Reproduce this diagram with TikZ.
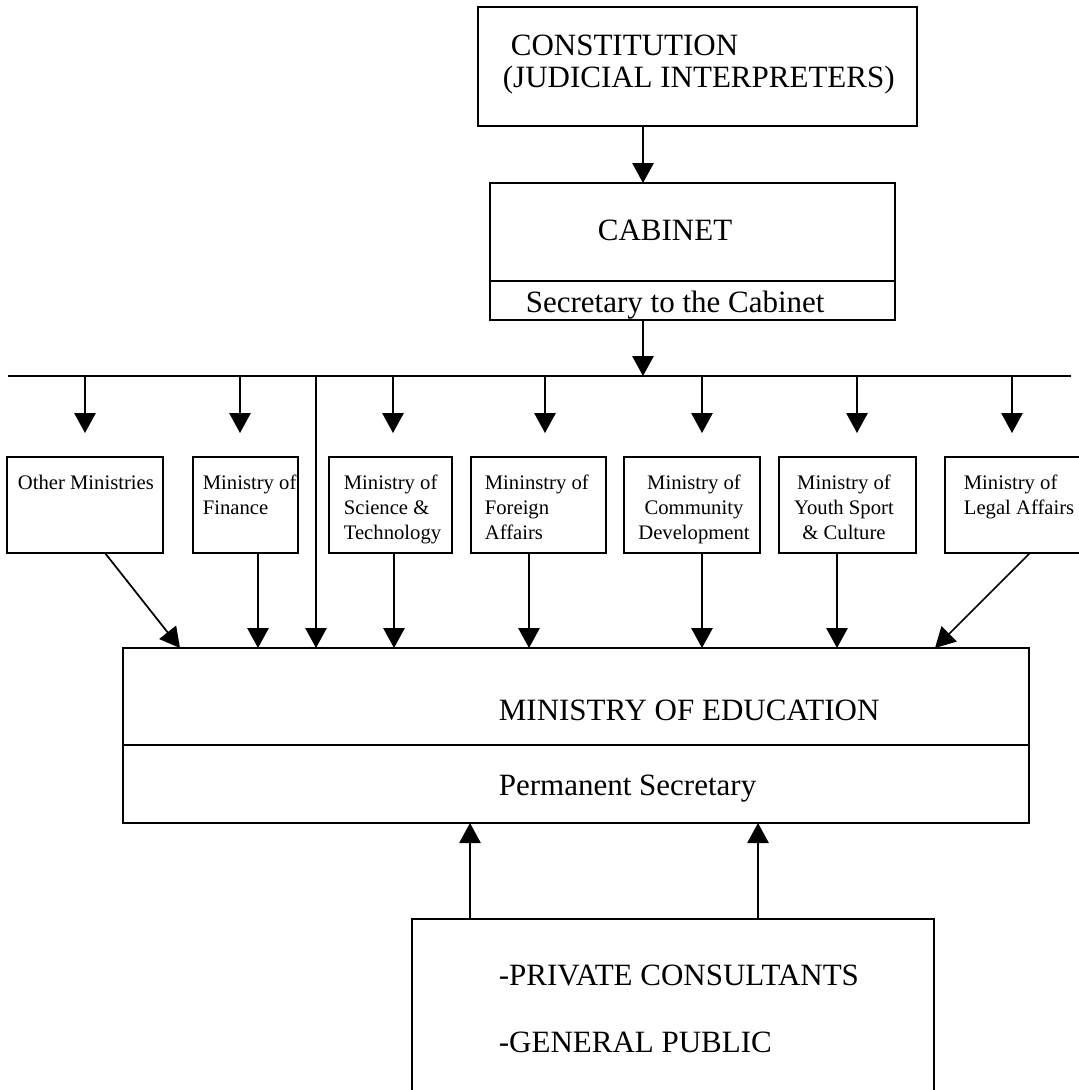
\documentclass[tikz,border=0pt]{standalone}
\usepackage{fontspec}
\setmainfont{Liberation Serif}
\usetikzlibrary{arrows.meta,calc}

\tikzset{every picture/.style={line width=1.3pt}}
\tikzset{
  box/.style={draw, inner sep=0pt, outer sep=0pt},
  arr/.style={-{Triangle[length=15pt,width=16pt]}},
  bigtext/.style={inner sep=0pt, font=\fontsize{23.25}{28}\selectfont},
  smalltext/.style={inner sep=0pt, font=\fontsize{15.5}{18.75}\selectfont},
}

\begin{document}
\begin{tikzpicture}[x=0.75pt,y=0.75pt,yscale=-1,xscale=1]
\useasboundingbox (0,0) rectangle (1079,1090);

%Shape: Rectangle [constitution]
\node[box, minimum width=329.25pt, minimum height=89.25pt] (const) at (697.5,66.5) {};
% Text Node
\node[bigtext, anchor=base west] (const-t1) at (510,55) {CONSTITUTION};
% Text Node
\node[bigtext, anchor=base west] (const-t2) at (502,87) {(JUDICIAL INTERPRETERS)};

%Shape: Rectangle [cabinet]
\node[box, minimum width=303.75pt, minimum height=73.5pt] (cab) at (692.5,232) {};
\node[box, minimum width=303.75pt, minimum height=29.25pt] (cabsec) at (692.5,300.5) {};
% Text Node
\node[bigtext, anchor=base west] (cab-t) at (597,240) {CABINET};
% Text Node
\node[bigtext, anchor=base west] (cabsec-t) at (525,312) {Secretary to the Cabinet};

%Shape: Rectangle [ministries]
\foreach \n/\cx/\w in {other/85/117pt, fin/245.5/78.75pt, sci/390.5/92.25pt, for/538.5/101.25pt, com/692/102pt, youth/847.5/102.75pt, legal/1020/112.5pt}
  \node[box, minimum width=\w, minimum height=72pt] (\n) at (\cx,505) {};
% Text Node
\node[smalltext, anchor=north west, align=left] (other-t) at (17,474) {Other Ministries};
% Text Node
\node[smalltext, anchor=north west, align=left] (fin-t) at (202,474) {Ministry of\\Finance};
% Text Node
\node[smalltext, anchor=north west, align=left] (sci-t) at (343,474) {Ministry of\\Science \&\\Technology};
% Text Node
\node[smalltext, anchor=north west, align=left] (for-t) at (484,474) {Mininstry of\\Foreign\\Affairs};
% Text Node
\node[smalltext, anchor=north, align=center] (com-t) at (694,474) {Ministry of\\Community\\Development};
% Text Node
\node[smalltext, anchor=north, align=center] (youth-t) at (844,474) {Ministry of\\Youth Sport\\\& Culture};
% Text Node
\node[smalltext, anchor=north west, align=left] (legal-t) at (963,474) {Ministry of\\Legal Affairs};

%Shape: Rectangle [ministry of education]
\node[box, minimum width=679.5pt, minimum height=72.75pt] (moe) at (576,696.5) {};
\node[box, minimum width=679.5pt, minimum height=58.5pt] (moeps) at (576,784) {};
% Text Node
\node[bigtext, anchor=base west] (moe-t) at (498,720) {MINISTRY OF EDUCATION};
% Text Node
\node[bigtext, anchor=base west] (moeps-t) at (498,795) {Permanent Secretary};

%Shape: Rectangle [public]
\node[box, minimum width=391.5pt, minimum height=135.75pt] (pub) at (673,1009.5) {};
% Text Node
\node[bigtext, anchor=base west] (pub-t1) at (498,985) {-PRIVATE CONSULTANTS};
% Text Node
\node[bigtext, anchor=base west] (pub-t2) at (498,1052) {-GENERAL PUBLIC};

%Straight Lines [spine]
\coordinate (spine) at (643,0);
\draw[arr] (const.south -| spine) -- (cab.north -| spine);

%Straight Lines [bus]
\coordinate (busL) at (8,376);
\coordinate (busR) at (1071,376);
\draw (busL) -- (busR);
\draw[arr] (cabsec.south -| spine) -- (busL -| spine);

%Straight Lines [drops]
\foreach \n/\x in {other/85, fin/240, sci/393, for/545, com/702, youth/857, legal/1012} {
  \coordinate (drop-\n) at (\x,433);
  \draw[arr] (busL -| drop-\n) -- (drop-\n);
}

%Straight Lines [long line]
\coordinate (long) at (316,376);
\draw[arr] (long) -- (moe.north -| long);

%Straight Lines [into education]
\foreach \n/\x in {fin/258, sci/394, for/529, com/702, youth/837} {
  \coordinate (down-\n) at (\x,0);
  \draw[arr] (\n.south -| down-\n) -- (moe.north -| down-\n);
}
\draw[arr] ($(other.south west)+(98,0)$) -- ($(moe.north west)+(57,0)$);
\draw[arr] ($(legal.south west)+(85,0)$) -- ($(moe.north west)+(812,0)$);

%Straight Lines [up from public]
\foreach \x [count=\i] in {470,758} {
  \coordinate (up-\i) at (\x,0);
  \draw[arr] (pub.north -| up-\i) -- (moeps.south -| up-\i);
}
\end{tikzpicture}
\end{document}
